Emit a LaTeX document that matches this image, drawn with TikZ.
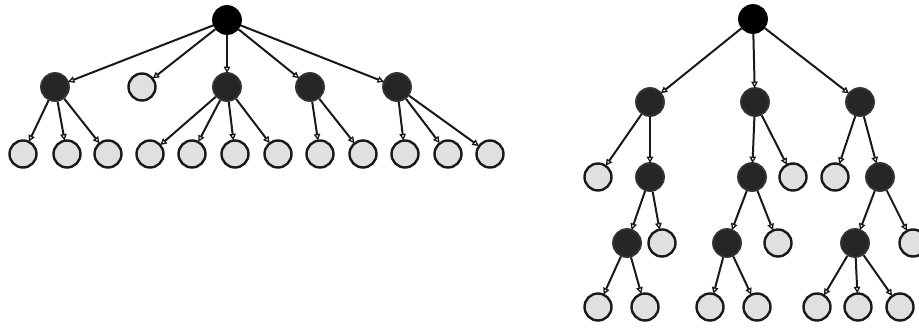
\documentclass[tikz,border=0pt]{standalone}
\usepackage{tikz}
\usetikzlibrary{arrows.meta}

\begin{document}
\begin{tikzpicture}[x=1pt,y=-1pt,>={Triangle[open,length=6.5pt,width=6.5pt,line width=1.3pt]},
  inner/.style={circle,draw=black!80,fill=black!85,line width=1.8pt,minimum size=28pt,inner sep=0pt},
  top/.style={inner,fill=black,draw=black},
  leaf/.style={circle,draw=black!90,fill=black!12,line width=2.4pt,minimum size=27pt,inner sep=0pt},
  link/.style={->,line width=2pt,black!90,shorten >=-1pt}]
\useasboundingbox (0,0) rectangle (919,327);
% left tree
\node[top] (r) at (227,20) {};
\node[inner] (a1) at (55,87) {};
\node[leaf] (a2) at (142,87) {};
\node[inner] (a3) at (227,87) {};
\node[inner] (a4) at (310,87) {};
\node[inner] (a5) at (397,87) {};
\foreach \i/\x in {1/23,2/67,3/108,4/150,5/192,6/235,7/278,8/320,9/363,10/405,11/448,12/490}
  \node[leaf] (b\i) at (\x,154) {};
\foreach \j in {1,...,5} \draw[link] (r) -- (a\j);
\foreach \p/\c in {a1/b1,a1/b2,a1/b3,a3/b4,a3/b5,a3/b6,a3/b7,a4/b8,a4/b9,a5/b10,a5/b11,a5/b12}
  \draw[link] (\p) -- (\c);
% right tree
\node[top] (R) at (753,19) {};
\node[inner] (c1) at (650,102) {};
\node[inner] (c2) at (755,102) {};
\node[inner] (c3) at (860,102) {};
\node[leaf] (d1) at (598,177) {};
\node[inner] (d2) at (650,177) {};
\node[inner] (d3) at (752,177) {};
\node[leaf] (d4) at (793,177) {};
\node[leaf] (d5) at (835,177) {};
\node[inner] (d6) at (880,177) {};
\node[inner] (e1) at (627,243) {};
\node[leaf] (e2) at (662,243) {};
\node[inner] (e3) at (727,243) {};
\node[leaf] (e4) at (778,243) {};
\node[inner] (e5) at (855,243) {};
\node[leaf] (e6) at (913,243) {};
\foreach \i/\x in {1/598,2/645,3/710,4/757,5/817,6/858,7/900}
  \node[leaf] (f\i) at (\x,307) {};
\foreach \p/\c in {R/c1,R/c2,R/c3,c1/d1,c1/d2,c2/d3,c2/d4,c3/d5,c3/d6,
  d2/e1,d2/e2,d3/e3,d3/e4,d6/e5,d6/e6,e1/f1,e1/f2,e3/f3,e3/f4,e5/f5,e5/f6,e5/f7}
  \draw[link] (\p) -- (\c);
\end{tikzpicture}
\end{document}
